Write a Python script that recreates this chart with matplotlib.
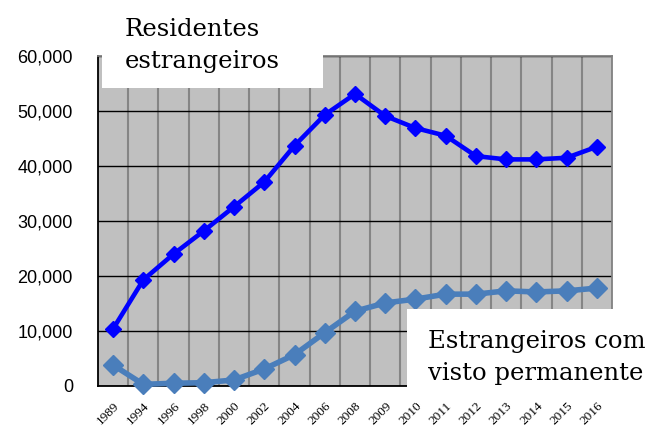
import matplotlib
matplotlib.use("Agg")
import matplotlib.pyplot as plt
from matplotlib.patches import Rectangle
from matplotlib.ticker import FuncFormatter, FixedLocator

years = ["1989", "1994", "1996", "1998", "2000", "2002", "2004", "2006", "2008",
         "2009", "2010", "2011", "2012", "2013", "2014", "2015", "2016"]
residentes = [10400, 19300, 24000, 28200, 32600, 37100, 43700, 49300, 53100,
              49100, 46900, 45500, 41800, 41200, 41200, 41500, 43500]
permanentes = [3800, 300, 500, 600, 1100, 3100, 5700, 9700, 13600,
               15100, 15800, 16700, 16700, 17300, 17100, 17300, 17800]
label_res = ["Residentes", "estrangeiros"]
label_perm = ["Estrangeiros com", "visto permanente"]

W, H = 646, 428
fig = plt.figure(figsize=(W / 100, H / 100), dpi=100)
ax = fig.add_axes([98 / W, 1 - 386 / H, (612 - 98) / W, (386 - 56) / H])
ax.set_facecolor("#c0c0c0")

x = list(range(len(years)))
ax.plot(x, residentes, color="#0000ff", lw=3.3, marker="D", ms=7.8,
        clip_on=False, zorder=4)
ax.plot(x, permanentes, color="#4a7ebb", lw=4.0, marker="D", ms=10,
        clip_on=False, zorder=3)

ax.set_xlim(-0.5, len(years) - 0.5)
ax.set_ylim(0, 60000)
ax.set_xticks(x)
ax.set_xticklabels(years, rotation=45, ha="right", va="top",
                   rotation_mode="anchor", family="Liberation Serif", fontsize=9.5)
ax.xaxis.set_minor_locator(FixedLocator([i + 0.5 for i in x[:-1]]))
ax.tick_params(axis="x", which="both", length=0, pad=10)
ax.set_yticks(range(0, 60001, 10000))
ax.yaxis.set_major_formatter(FuncFormatter(lambda v, p: f"{int(v):,}"))
ax.tick_params(axis="y", length=0, pad=18, labelsize=13)
for lab in ax.get_yticklabels():
    lab.set_family("Liberation Sans")

ax.grid(axis="x", which="minor", color="#858585", lw=1.5)
ax.grid(axis="y", which="major", color="black", lw=1.0)
ax.set_axisbelow(True)

for s in ["left", "bottom"]:
    ax.spines[s].set_color("black")
    ax.spines[s].set_linewidth(1.3)
for s in ["top", "right"]:
    ax.spines[s].set_color("#808080")
    ax.spines[s].set_linewidth(1.3)

fig.patches.append(Rectangle((102 / W, 1 - 88 / H), 221 / W, 88 / H,
                             transform=fig.transFigure, facecolor="white",
                             edgecolor="none", zorder=5))
fig.patches.append(Rectangle((407 / W, 1 - 392 / H), 239 / W, 83 / H,
                             transform=fig.transFigure, facecolor="white",
                             edgecolor="none", zorder=5))

for i, line in enumerate(label_res):
    fig.text(125 / W, 1 - (36 + 32 * i) / H, line, family="DejaVu Serif",
             fontsize=17.5, va="baseline", ha="left", zorder=6)
for i, line in enumerate(label_perm):
    fig.text(428 / W, 1 - (348 + 32 * i) / H, line, family="DejaVu Serif",
             fontsize=17.5, va="baseline", ha="left", zorder=6)

fig.savefig("out.png", dpi=100)
